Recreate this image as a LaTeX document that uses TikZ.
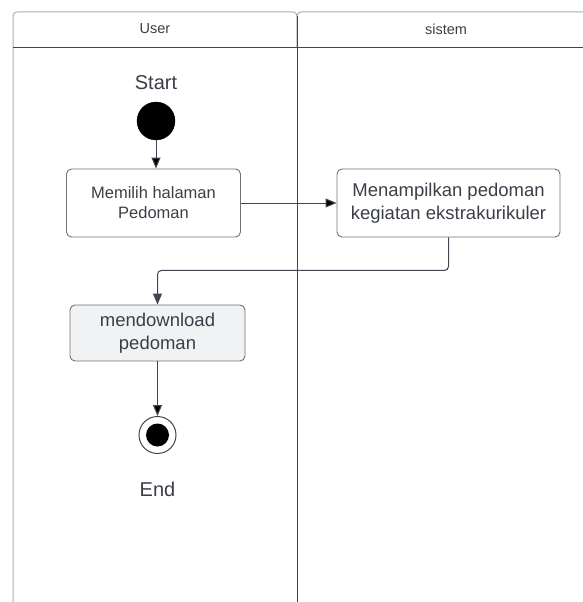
\documentclass[tikz,border=0pt]{standalone}
\usepackage{fontspec}
\setmainfont{Liberation Sans}
\usetikzlibrary{arrows.meta,positioning}
\definecolor{garis}{HTML}{3F4650}
\definecolor{teks}{HTML}{3A3F47}
\definecolor{tepi}{HTML}{6E7278}
\definecolor{tepimuda}{HTML}{A8ACB2}
\definecolor{abu}{HTML}{F1F2F4}

\begin{document}
\begin{tikzpicture}[%
    x=1pt, y=-1pt,
    >={Triangle[length=11pt,width=9pt]},
    node distance=54pt,
    on grid,
    every node/.style={text=teks, font=\fontsize{16.5}{20}\selectfont},
    aksi/.style={draw=tepi, line width=0.9pt, rounded corners=5pt,
      align=center, inner sep=0pt},
    besar/.style={font=\fontsize{18.5}{22.5}\selectfont},
    awal/.style={circle, fill=black, draw=black, minimum size=38pt, inner sep=0pt},
    akhir/.style={circle, draw=garis, line width=1pt, fill=white,
      minimum size=37pt, inner sep=0pt,
      path picture={\fill[black] (path picture bounding box.center) circle (11.5pt);}},
    judul/.style={font=\fontsize{14.5}{17}\selectfont},
    lbl/.style={font=\fontsize{20}{24}\selectfont},
    alur/.style={->, draw=garis, line width=1pt}
  ]
  \clip (0,0) rectangle (583,602);

  \draw[tepimuda, line width=1pt, rounded corners=4pt] (13,610) |- (297,12) -- (297,47);
  \draw[tepimuda, line width=1pt, rounded corners=4pt] (297,47) |- (590,12);
  \draw[garis, line width=0.9pt] (13,47) -- (590,47);
  \draw[garis, line width=1pt] (297,16) -- (297,610);

  \node[judul] (laneuser) at (155,29) {User};
  \node[judul] (lanesistem) at (446,29) {sistem};

  \node[awal] (start) at (156,121) {};
  \node[lbl] (lblstart) [above=38pt of start] {Start};
  \node[aksi, minimum width=174pt, minimum height=68pt] (pilih) at (153.5,203)
    {Memilih halaman\\Pedoman};
  \node[aksi, besar, minimum width=223pt, minimum height=68pt] (tampil) at (448.5,203)
    {Menampilkan pedoman\\kegiatan ekstrakurikuler};
  \node[aksi, besar, fill=abu, minimum width=175pt, minimum height=56pt] (unduh) at (157.5,333)
    {mendownload\\pedoman};
  \node[akhir] (selesai) at (157.5,435) {};
  \node[lbl] (lblend) [below=54pt of selesai] {End};

  \path[alur] (start) edge (start |- pilih.north);
  \path[alur] (pilih) edge (tampil);
  \draw[alur, rounded corners=4pt] (tampil.south) -- ++(0,33) -| (unduh.north);
  \path[alur] (unduh) edge (selesai);

\end{tikzpicture}
\end{document}
